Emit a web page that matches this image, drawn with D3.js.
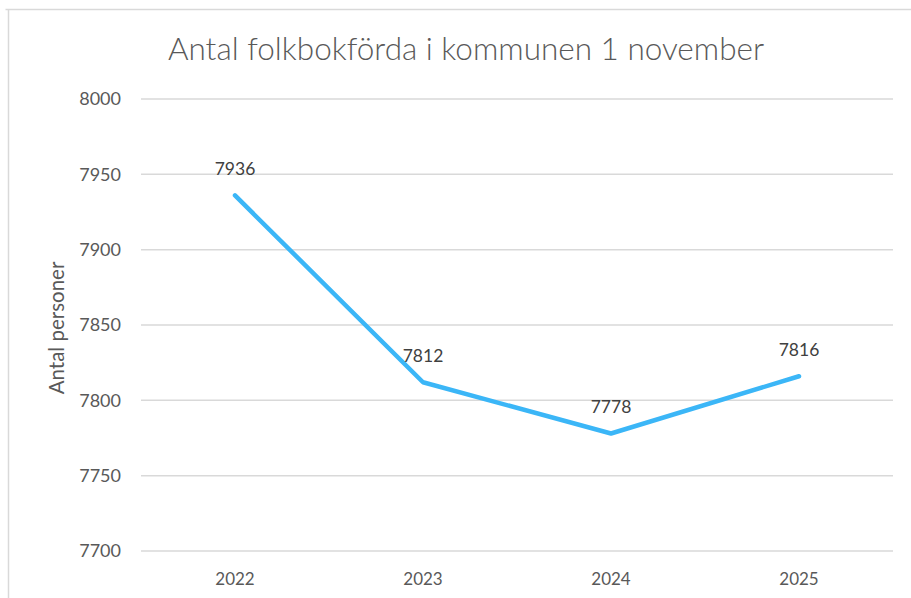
<!DOCTYPE html>
<html><head><meta charset="utf-8">
<script src="https://cdn.jsdelivr.net/npm/d3@7"></script>
<style>body{margin:0;background:#fff;}svg{display:block;font-family:Lato,"Open Sans",sans-serif;}</style>
</head><body>
<svg id="c" width="911" height="598"></svg>
<script>
const years = ["2022","2023","2024","2025"];
const values = [7936,7812,7778,7816];
const yTicks = [7700,7750,7800,7850,7900,7950,8000];
const title = "Antal folkbokförda i kommunen 1 november";
const yTitle = "Antal personer";

const svg = d3.select("#c");
const m = {l:141, r:893, t:99, b:551};
// outer border
svg.append("path").attr("d","M5.5,9.5H911 M8.5,9.5V598").attr("stroke","#d9d9d9").attr("stroke-width",1.5).attr("fill","none");

const x = d3.scaleBand().domain(years).range([m.l,m.r]);
const y = d3.scaleLinear().domain([7700,8000]).range([m.b,m.t]);

// gridlines
svg.append("g").selectAll("line").data(yTicks).join("line")
  .attr("x1",m.l).attr("x2",m.r).attr("y1",d=>y(d)).attr("y2",d=>y(d))
  .attr("stroke","#d9d9d9").attr("stroke-width",1.5);

// y axis
const ya = svg.append("g").attr("transform",`translate(${m.l-20},0)`)
  .call(d3.axisLeft(y).tickValues(yTicks).tickFormat(d3.format("d")).tickSize(0).tickPadding(0));
ya.select(".domain").remove();
ya.selectAll("text").attr("font-size",18).attr("fill","#595959").attr("font-family","Lato,sans-serif");

// x axis
const xa = svg.append("g").attr("transform",`translate(0,${m.b+22})`)
  .call(d3.axisBottom(x).tickSize(0).tickPadding(0));
xa.select(".domain").remove();
xa.selectAll("text").attr("font-size",17).attr("fill","#595959").attr("dy","0.71em").attr("font-family","Lato,sans-serif");

// line
const data = years.map((yr,i)=>({yr, v:values[i]}));
svg.append("path").datum(data)
  .attr("d", d3.line().x(d=>x(d.yr)+x.bandwidth()/2).y(d=>y(d.v)))
  .attr("fill","none").attr("stroke","#3BB6F7").attr("stroke-width",4.5).attr("stroke-linejoin","round").attr("stroke-linecap","round");

// labels
svg.append("g").selectAll("text").data(data).join("text")
  .attr("x",d=>x(d.yr)+x.bandwidth()/2).attr("y",d=>y(d.v)-20)
  .attr("text-anchor","middle").attr("font-size",17.5).attr("fill","#404040")
  .text(d=>d.v);

// title
svg.append("text").attr("x",466).attr("y",60).attr("text-anchor","middle")
  .attr("font-size",31.5).attr("font-weight",300).attr("fill","#595959").text(title);

// y title
svg.append("text").attr("transform","translate(64,328) rotate(-90)").attr("text-anchor","middle")
  .attr("font-size",20.5).attr("fill","#595959").text(yTitle);
</script>
</body></html>
